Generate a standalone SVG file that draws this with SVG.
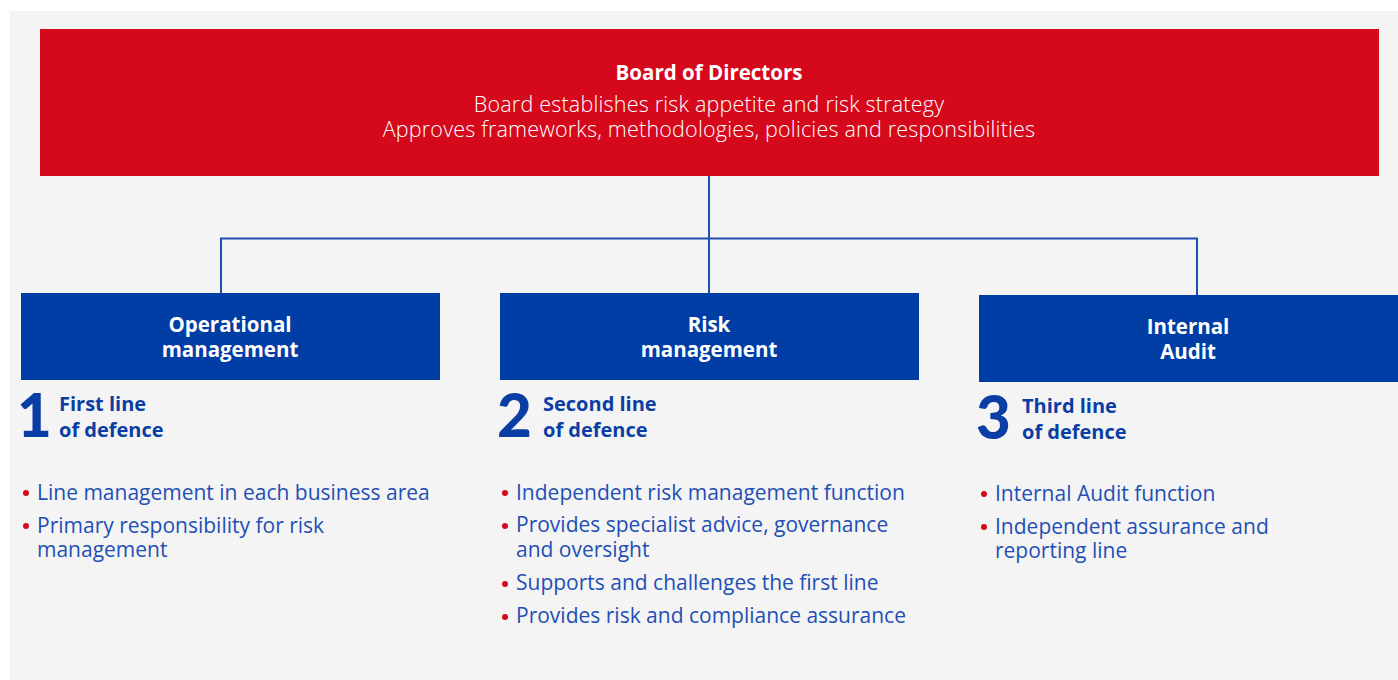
<svg xmlns="http://www.w3.org/2000/svg" width="1398" height="680" viewBox="0 0 1398 680">
  <style>
    .panel { fill: #f4f4f4; }
    .board { fill: #d6081b; }
    .unit { fill: #003da5; }
    .link { fill: none; stroke: #1f4fb0; stroke-width: 2; }
    .title { font-family: "Open Sans", Lato, sans-serif; font-weight: 700; font-size: 20.5px; fill: #ffffff; text-anchor: middle; }
    .sub { font-family: "Open Sans", Lato, sans-serif; font-weight: 300; font-size: 21.5px; letter-spacing: 0.2px; fill: #ffffff; text-anchor: middle; }
    .num { font-family: Lato, "Open Sans", sans-serif; font-weight: 900; font-size: 60px; fill: #0a3ea5; }
    .line { font-family: "Open Sans", Lato, sans-serif; font-weight: 700; font-size: 20px; fill: #0a3ea5; }
    .item { font-family: "Open Sans", Lato, sans-serif; font-weight: 400; font-size: 21px; fill: #1f4fb4; }
    .dot { fill: #d6081b; }
  </style>

  <rect class="panel" x="10" y="11" width="1388" height="669"/>

  <g id="board">
    <rect class="board" x="40" y="29" width="1339" height="147"/>
    <text class="title" x="709" y="80">Board of Directors</text>
    <text class="sub" x="709" y="112">Board establishes risk appetite and risk strategy</text>
    <text class="sub" x="709" y="137">Approves frameworks, methodologies, policies and responsibilities</text>
  </g>

  <g id="connectors">
    <path class="link" d="M709 176 V293"/>
    <path class="link" d="M221 293 V238.5 H1197 V295"/>
  </g>

  <g id="operational">
    <rect class="unit" x="21" y="293" width="419" height="87"/>
    <text class="title" x="230" y="332">Operational</text>
    <text class="title" x="230" y="357">management</text>
    <text class="num" x="17" y="437">1</text>
    <text class="line" x="59" y="411">First line</text>
    <text class="line" x="59" y="437">of defence</text>
    <circle class="dot" cx="26" cy="493" r="3"/>
    <text class="item" x="37" y="500">Line management in each business area</text>
    <circle class="dot" cx="26" cy="526" r="3"/>
    <text class="item" x="37" y="533">Primary responsibility for risk</text>
    <text class="item" x="37" y="557">management</text>
  </g>

  <g id="risk">
    <rect class="unit" x="500" y="293" width="419" height="87"/>
    <text class="title" x="709" y="332">Risk</text>
    <text class="title" x="709" y="357">management</text>
    <text class="num" x="497" y="437">2</text>
    <text class="line" x="543" y="411">Second line</text>
    <text class="line" x="543" y="437">of defence</text>
    <circle class="dot" cx="505" cy="493" r="3"/>
    <text class="item" x="516" y="500">Independent risk management function</text>
    <circle class="dot" cx="505" cy="526" r="3"/>
    <text class="item" x="516" y="532">Provides specialist advice, governance</text>
    <text class="item" x="516" y="557">and oversight</text>
    <circle class="dot" cx="505" cy="584" r="3"/>
    <text class="item" x="516" y="590">Supports and challenges the first line</text>
    <circle class="dot" cx="505" cy="617" r="3"/>
    <text class="item" x="516" y="623">Provides risk and compliance assurance</text>
  </g>

  <g id="audit">
    <rect class="unit" x="979" y="295" width="419" height="87"/>
    <text class="title" x="1188" y="334">Internal</text>
    <text class="title" x="1188" y="359">Audit</text>
    <text class="num" x="976" y="439">3</text>
    <text class="line" x="1022" y="413">Third line</text>
    <text class="line" x="1022" y="439">of defence</text>
    <circle class="dot" cx="984" cy="494" r="3"/>
    <text class="item" x="995" y="501">Internal Audit function</text>
    <circle class="dot" cx="984" cy="527" r="3"/>
    <text class="item" x="995" y="534">Independent assurance and</text>
    <text class="item" x="995" y="558">reporting line</text>
  </g>
</svg>
